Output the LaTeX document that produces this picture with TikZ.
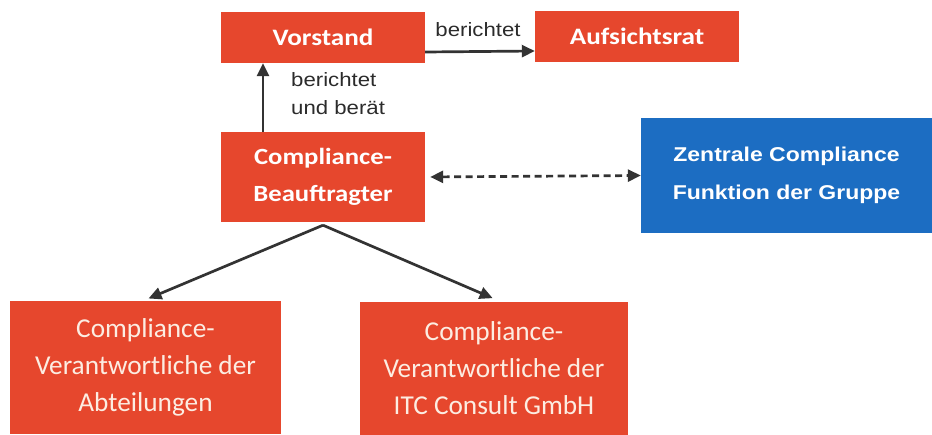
\documentclass[tikz,border=0pt]{standalone}
\usepackage{fontspec}
\setmainfont{Liberation Sans}[FakeStretch=1.15]
\newfontfamily\calibst{Carlito}[FakeStretch=1.15]
\newfontfamily\calibnorm{Carlito}
\usetikzlibrary{arrows.meta}
\definecolor{boxred}{HTML}{E6472D}
\definecolor{boxblue}{HTML}{1C6DC2}
\definecolor{arrowgray}{HTML}{333333}
\definecolor{cream}{HTML}{FCEDE2}
\begin{document}
\begin{tikzpicture}[x=1pt,y=-1pt,
  redbox/.style={fill=boxred, draw=none, inner sep=0pt, align=center, text=white},
  topbox/.style={redbox, minimum width=204pt, minimum height=51pt, font=\calibst\bfseries\fontsize{23.6}{28}\selectfont},
  cbox/.style={redbox, minimum width=204pt, minimum height=90pt, font=\calibst\bfseries\fontsize{23.2}{37}\selectfont},
  lowbox/.style={redbox, text=cream, minimum height=133pt, font=\calibnorm\fontsize{27.3}{37}\selectfont},
  bluebox/.style={fill=boxblue, draw=none, inner sep=0pt, align=center, text=white, minimum width=291pt, minimum height=115pt, font=\bfseries\fontsize{20}{38}\selectfont},
  lbl/.style={inner sep=0pt, text=arrowgray!85!black, font=\fontsize{19.3}{28}\selectfont},
  tip/.tip={Triangle[length=13pt,width=12pt]},
  conn/.style={draw=arrowgray, line width=2.7pt, -tip},
]
\useasboundingbox (0,0) rectangle (932,434);

\node[topbox] (V) at (323,37.5) {Vorstand};
\node[topbox] (A) at (637,36.5) {Aufsichtsrat};
\node[cbox] (C) at (323,177) {Compliance-\\Beauftragter};
\node[bluebox] (Z) at (786.5,175.5) {Zentrale Compliance\\Funktion der Gruppe};
\node[lowbox, minimum width=271pt] (L) at (145.5,367.5) {Compliance-\\Verantwortliche der\\Abteilungen};
\node[lowbox, minimum width=268pt] (R) at (494,368) {Compliance-\\Verantwortliche der\\ITC Consult GmbH};

\draw[conn] ([yshift=-14.5pt]V.east) -- ([yshift=-14.5pt]A.west);
\node[lbl] (l1) at (478,30) {berichtet};

\draw[conn] ([xshift=-60pt]C.north) -- ([xshift=-60pt]V.south);
\node[lbl, align=left, anchor=north west] (l2) at (291,72) {berichtet\\und berät};

\draw[conn, tip-tip, dash pattern=on 7pt off 4.5pt, shorten <=5pt] (C.east) -- (Z.west);

\coordinate (apex) at ([yshift=-3pt]C.south);
\draw[conn, shorten >=6pt] (apex) -- ([xshift=-2.5pt]L.north);
\draw[conn, shorten >=8pt] (apex) -- ([xshift=6pt]R.north);
\end{tikzpicture}
\end{document}
